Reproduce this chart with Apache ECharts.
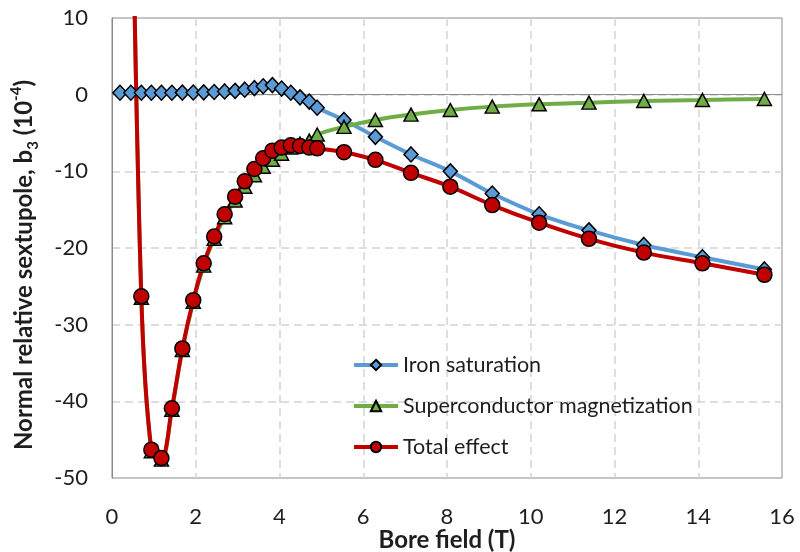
<!DOCTYPE html>
<html>
<head>
<meta charset="utf-8">
<script src="https://cdn.jsdelivr.net/npm/echarts@6/dist/echarts.min.js"></script>
<style>
  html, body { margin: 0; padding: 0; background: #fff; }
  #chart { width: 800px; height: 552px; }
</style>
</head>
<body>
<div id="chart"></div>
<script>
// Bore field (T) at each measurement step
const field = [0.19, 0.45, 0.70, 0.94, 1.18, 1.43, 1.68, 1.94, 2.19, 2.44, 2.69, 2.94, 3.17, 3.40, 3.61, 3.83, 4.05, 4.27, 4.49, 4.71, 4.90, 5.54, 6.29, 7.14, 8.08, 9.08, 10.20, 11.39, 12.70, 14.10, 15.58];

// b3 contributions (units of 1e-4); null = no value at that field
const ironSaturation = [0.25, 0.25, 0.25, 0.25, 0.25, 0.25, 0.27, 0.28, 0.30, 0.35, 0.42, 0.50, 0.65, 0.85, 1.10, 1.25, 0.80, 0.25, -0.35, -0.90, -1.70, -3.3, -5.5, -7.8, -10.0, -12.9, -15.6, -17.7, -19.6, -21.2, -22.8];
const scMagnetization = [null, 39.75, -26.5, -46.5, -47.6, -41.1, -33.3, -27.0, -22.3, -18.8, -16.0, -13.8, -12.0, -10.5, -9.4, -8.5, -7.7, -6.9, -6.4, -6.0, -5.2, -4.2, -3.3, -2.6, -2.0, -1.56, -1.26, -1.04, -0.82, -0.69, -0.56];
const totalEffect = [null, 40, -26.3, -46.3, -47.4, -40.9, -33.1, -26.8, -22.0, -18.5, -15.6, -13.3, -11.3, -9.7, -8.3, -7.3, -6.9, -6.6, -6.7, -6.9, -7.0, -7.5, -8.5, -10.2, -12.0, -14.4, -16.7, -18.8, -20.6, -22.0, -23.5];

const seriesNames = ['Iron saturation', 'Superconductor magnetization', 'Total effect'];

const xTicks = { min: 0, max: 16, step: 2 };
const yTicks = { min: -50, max: 10, step: 10 };

function pairs(xs, ys) {
  const out = [];
  xs.forEach((x, i) => { if (ys[i] !== null) out.push([x, ys[i]]); });
  return out;
}

const FONT = 'Lato';
const TEXT = '#1e1e1e';

function lineSeries(name, values, color, symbol, size) {
  return {
    name: name,
    type: 'line',
    data: pairs(field, values),
    smooth: 0.33,
    clip: true,
    symbol: symbol,
    symbolSize: size,
    lineStyle: { color: color, width: 4 },
    itemStyle: { color: color, borderColor: '#000', borderWidth: 1.5 },
    emphasis: { disabled: true },
    animation: false
  };
}

const chart = echarts.init(document.getElementById('chart'), null, { renderer: 'canvas' });

chart.setOption({
  backgroundColor: '#fff',
  animation: false,
  grid: {
    left: 112, right: 18, top: 18, bottom: 74,
    outerBoundsMode: 'none',
    containLabel: false,
    show: true, borderColor: '#8a8a8a', borderWidth: 1, backgroundColor: 'transparent'
  },
  legend: {
    orient: 'vertical',
    left: 347, top: 349,
    itemWidth: 44, itemHeight: 13, itemGap: 19,
    lineStyle: { width: 4 },
    textStyle: { fontFamily: FONT, fontSize: 21.5, color: TEXT },
    data: seriesNames
  },
  xAxis: {
    type: 'value',
    min: xTicks.min, max: xTicks.max, interval: xTicks.step,
    name: 'Bore field (T)',
    nameLocation: 'middle',
    nameGap: 50,
    nameMoveOverlap: false,
    nameTextStyle: { fontFamily: FONT, fontSize: 24, fontWeight: 'bold', color: TEXT },
    axisLine: { show: true, lineStyle: { color: '#8a8a8a', width: 1 } },
    axisTick: { show: false },
    axisLabel: { fontFamily: FONT, fontSize: 22, color: TEXT, margin: 28 },
    splitLine: {
      show: true, showMinLine: false, showMaxLine: false,
      lineStyle: { color: '#d4d4d4', width: 1.5, type: [8, 5] }
    }
  },
  yAxis: {
    type: 'value',
    min: yTicks.min, max: yTicks.max, interval: yTicks.step,
    name: '{n|Normal relative sextupole, b}{sub|3}{n| (10}{sup|-4}{n|)}',
    nameLocation: 'middle',
    nameRotate: 90,
    nameGap: 73,
    nameMoveOverlap: false,
    nameTextStyle: {
      fontFamily: FONT, fontSize: 24, fontWeight: 'bold', color: TEXT,
      padding: [0, 34, 0, 0],
      rich: {
        n: { fontFamily: FONT, fontSize: 24, fontWeight: 'bold', color: TEXT, lineHeight: 30, verticalAlign: 'middle' },
        sub: { fontFamily: FONT, fontSize: 15, fontWeight: 'bold', color: TEXT, lineHeight: 30, verticalAlign: 'bottom', padding: [0, 0, -2, 0] },
        sup: { fontFamily: FONT, fontSize: 15, fontWeight: 'bold', color: TEXT, lineHeight: 30, verticalAlign: 'top' }
      }
    },
    axisLine: { show: true, lineStyle: { color: '#8a8a8a', width: 1 } },
    axisTick: { show: false },
    axisLabel: { fontFamily: FONT, fontSize: 22, color: TEXT, margin: 24 },
    splitLine: {
      show: true, showMinLine: false, showMaxLine: false,
      lineStyle: { color: '#d4d4d4', width: 1.5, type: [8, 5] }
    }
  },
  series: [
    lineSeries(seriesNames[0], ironSaturation, '#5B9BD5', 'diamond', [14, 15]),
    lineSeries(seriesNames[1], scMagnetization, '#70AD47', 'triangle', [14, 13]),
    lineSeries(seriesNames[2], totalEffect, '#C00000', 'circle', 15)
  ]
});
</script>
</body>
</html>
